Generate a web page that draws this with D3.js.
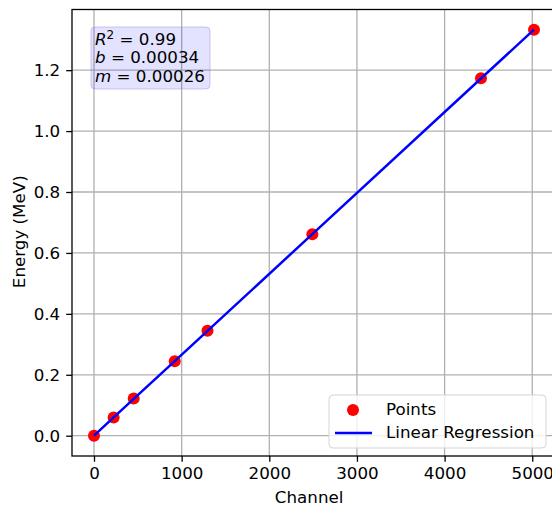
<!DOCTYPE html>
<html>
<head>
<meta charset="utf-8">
<script src="https://cdn.jsdelivr.net/npm/d3@7"></script>
<style>
  body { margin: 0; background: #fff; }
  text { font-family: "DejaVu Sans", sans-serif; fill: #000; }
</style>
</head>
<body>
<div id="chart"></div>
<script>
// data
var channels = [0, 224, 453, 921, 1295, 2491, 4415, 5020];
var energies = [0, 0.0595, 0.122, 0.2447, 0.3443, 0.6617, 1.1732, 1.3325];
var xTicks = [0, 1000, 2000, 3000, 4000, 5000];
var yTicks = [0.0, 0.2, 0.4, 0.6, 0.8, 1.0, 1.2];
var fitLabels = [["R", "2", " = 0.99"], ["b", "", " = 0.00034"], ["m", "", " = 0.00026"]];

var w = 552, h = 508;
var margin = { top: 9.5, right: -4, bottom: 52, left: 72 };
var width = w - margin.left - margin.right,
    height = h - margin.top - margin.bottom;
var fs = 16.7;

var svg = d3.select("#chart")
    .append("svg")
    .attr("width", w)
    .attr("height", h)
    .append("g")
    .attr("transform", "translate(" + margin.left + "," + margin.top + ")");

// matplotlib-like 5% margins
var xmin = d3.min(channels), xmax = d3.max(channels);
var ymin = d3.min(energies), ymax = d3.max(energies);
var dx = (xmax - xmin) * 0.05, dy = (ymax - ymin) * 0.05;

var x = d3.scaleLinear().domain([xmin - dx, xmax + dx]).range([0, width]);
var y = d3.scaleLinear().domain([ymin - dy, ymax + dy]).range([height, 0]);

// grid
svg.append("g").selectAll("line").data(xTicks).enter().append("line")
    .attr("x1", function(d) { return x(d); }).attr("x2", function(d) { return x(d); })
    .attr("y1", 0).attr("y2", height)
    .attr("stroke", "#b0b0b0").attr("stroke-width", 1.3);
svg.append("g").selectAll("line").data(yTicks).enter().append("line")
    .attr("y1", function(d) { return y(d); }).attr("y2", function(d) { return y(d); })
    .attr("x1", 0).attr("x2", width)
    .attr("stroke", "#b0b0b0").attr("stroke-width", 1.3);

// least squares fit
var mx = d3.mean(channels), my = d3.mean(energies);
var sxy = d3.sum(channels, function(c, i) { return (c - mx) * (energies[i] - my); });
var sxx = d3.sum(channels, function(c) { return (c - mx) * (c - mx); });
var slope = sxy / sxx, intercept = my - slope * mx;

var line = d3.line()
    .x(function(d) { return x(d); })
    .y(function(d) { return y(slope * d + intercept); });

// points
svg.append("g").selectAll("circle").data(channels).enter().append("circle")
    .attr("cx", function(d) { return x(d); })
    .attr("cy", function(d, i) { return y(energies[i]); })
    .attr("r", 6)
    .attr("fill", "red");

svg.append("path")
    .datum(channels)
    .attr("fill", "none")
    .attr("stroke", "blue")
    .attr("stroke-width", 2.5)
    .attr("d", line);

// axes
var xAxis = svg.append("g")
    .attr("transform", "translate(0," + height + ")")
    .call(d3.axisBottom(x).tickValues(xTicks).tickFormat(d3.format("d")).tickSize(5.8).tickPadding(5));
var yAxis = svg.append("g")
    .call(d3.axisLeft(y).tickValues(yTicks).tickFormat(d3.format(".1f")).tickSize(5.8).tickPadding(6));
[xAxis, yAxis].forEach(function(a) {
    a.select(".domain").remove();
    a.attr("font-size", null).attr("font-family", null);
    a.selectAll("text").style("font-size", fs + "px").attr("fill", "#000");
    a.selectAll("line").attr("stroke", "#000").attr("stroke-width", 1.3);
});

// spines
svg.append("rect")
    .attr("x", 0).attr("y", 0).attr("width", width).attr("height", height)
    .attr("fill", "none").attr("stroke", "#000").attr("stroke-width", 1.3);

// axis labels
svg.append("text")
    .attr("x", x(2500) - 4).attr("y", height + 47)
    .attr("text-anchor", "middle").style("font-size", fs + "px")
    .text("Channel");
svg.append("text")
    .attr("transform", "translate(" + (-47) + "," + (height / 2 - 1) + ") rotate(-90)")
    .attr("text-anchor", "middle").style("font-size", fs + "px")
    .text("Energy (MeV)");

// fit annotation box
var box = svg.append("g").attr("transform", "translate(19,17.5)");
box.append("rect")
    .attr("width", 119).attr("height", 62).attr("rx", 4)
    .attr("fill", "rgba(0,0,255,0.11)")
    .attr("stroke", "rgba(140,140,220,0.45)");
fitLabels.forEach(function(l, i) {
    var t = box.append("text")
        .attr("x", 4).attr("y", 18 + i * 18.3)
        .style("font-size", fs + "px");
    t.append("tspan").style("font-style", "italic").text(l[0]);
    if (l[1]) t.append("tspan").attr("dy", -6.5).style("font-size", "12px").text(l[1]);
    t.append("tspan").attr("dy", l[1] ? 6.5 : 0).text(l[2]);
});

// legend
var lg = svg.append("g").attr("transform", "translate(257,385.5)");
lg.append("rect")
    .attr("width", 217).attr("height", 53).attr("rx", 4)
    .attr("fill", "rgba(255,255,255,0.8)")
    .attr("stroke", "#d5d5d5");
lg.append("circle").attr("cx", 24).attr("cy", 15).attr("r", 6).attr("fill", "red");
lg.append("line").attr("x1", 6).attr("x2", 43).attr("y1", 38).attr("y2", 38)
    .attr("stroke", "blue").attr("stroke-width", 2.5);
lg.append("text").attr("x", 57).attr("y", 15).attr("dominant-baseline", "middle")
    .style("font-size", fs + "px").text("Points");
lg.append("text").attr("x", 57).attr("y", 38).attr("dominant-baseline", "middle")
    .style("font-size", fs + "px").text("Linear Regression");
</script>
</body>
</html>
